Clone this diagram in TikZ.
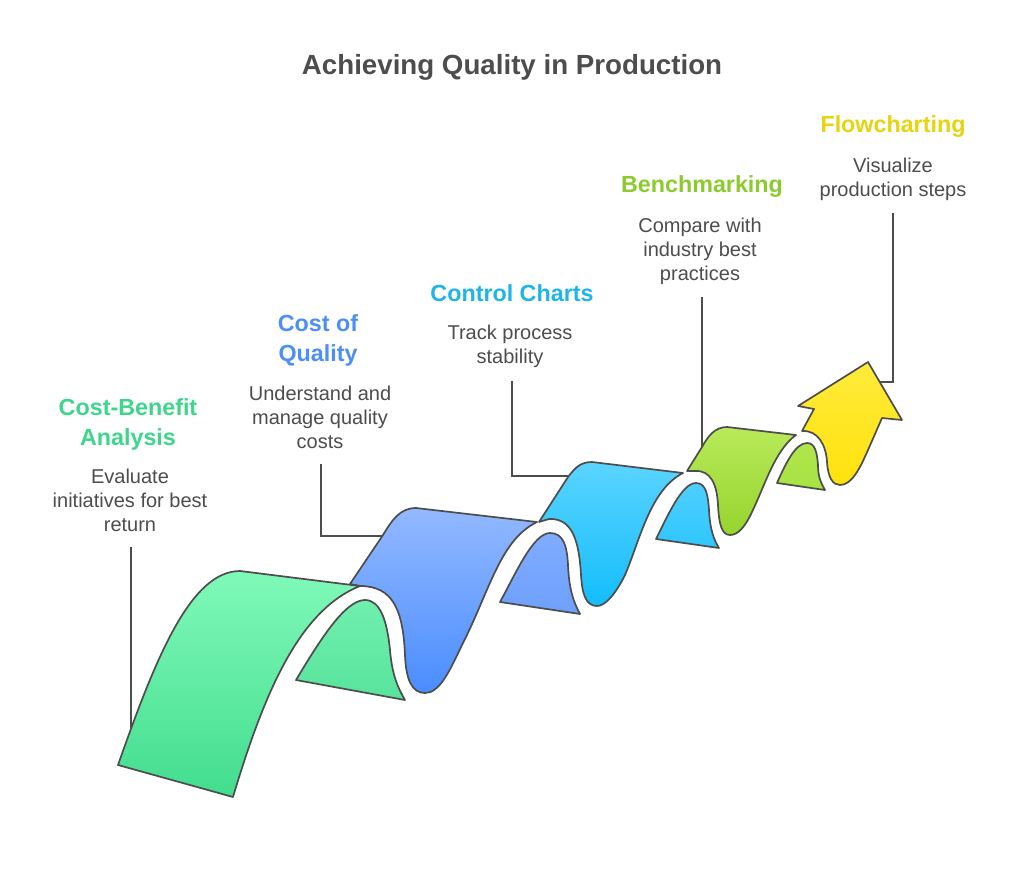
\documentclass[tikz,border=0pt]{standalone}
\usepackage{fontspec}
\setmainfont{Liberation Sans}
\definecolor{ink}{HTML}{4D4D4D}
\definecolor{lgreen}{HTML}{3DD68C}
\definecolor{lblue}{HTML}{4D8FF5}
\definecolor{lcyan}{HTML}{1FB4EA}
\definecolor{llime}{HTML}{8CCB2E}
\definecolor{lyellow}{HTML}{E8D30F}
\definecolor{gt}{HTML}{80F9B9}\definecolor{gb}{HTML}{42DD8E}
\definecolor{gst}{HTML}{70F0AE}\definecolor{gsb}{HTML}{58E39C}
\definecolor{bt}{HTML}{93B9FF}\definecolor{bb}{HTML}{4A8DFF}
\definecolor{bst}{HTML}{80ACFF}\definecolor{bsb}{HTML}{6EA0FC}
\definecolor{ct}{HTML}{5AD4FF}\definecolor{cb}{HTML}{14BDFB}
\definecolor{cst}{HTML}{4FCFFF}\definecolor{csb}{HTML}{2EC6FD}
\definecolor{lt}{HTML}{B9EA5A}\definecolor{lb}{HTML}{96D42D}
\definecolor{lst}{HTML}{B0E64C}\definecolor{lsb}{HTML}{A8E243}
\definecolor{yt}{HTML}{FFEB3B}\definecolor{yb}{HTML}{FFE20D}
\tikzset{
  ribbon/.style={draw=ink,line width=1.7pt,line join=round},
  link/.style={draw=ink,line width=1.7pt,line join=miter},
  titletext/.style={text=ink,inner sep=0pt,font=\fontsize{27.7}{34}\selectfont\bfseries},
  headtext/.style={inner sep=0pt,align=center,font=\fontsize{23.3}{30}\selectfont\bfseries},
  desctext/.style={text=ink,inner sep=0pt,align=center,font=\fontsize{20}{24}\selectfont},
}
\begin{document}
\begin{tikzpicture}[x=1pt,y=-1pt]
\fill[white] (0,0) rectangle (1024,870);
\useasboundingbox (0,0) rectangle (1024,870);

\node[titletext] (title) at (512,67) {Achieving Quality in Production};

\node[headtext,text=lgreen] (h1) at (128,424.5) {Cost-Benefit\\Analysis};
\node[desctext] (d1) at (130,500) {Evaluate\\initiatives for best\\return};
\node[headtext,text=lblue] (h2) at (318,340.5) {Cost of\\Quality};
\node[desctext] (d2) at (320,417) {Understand and\\manage quality\\costs};
\node[headtext,text=lcyan] (h3) at (512,293.5) {Control Charts};
\node[desctext] (d3) at (510,346.5) {Track process\\stability};
\node[headtext,text=llime] (h4) at (702,186.5) {Benchmarking};
\node[desctext] (d4) at (700,251.5) {Compare with\\industry best\\practices};
\node[headtext,text=lyellow] (h5) at (893,126.5) {Flowcharting};
\node[desctext] (d5) at (893,179.5) {Visualize\\production steps};

% connector ends
\coordinate (c1a) at (131,547);  \coordinate (c1b) at (131,728);
\coordinate (c2a) at (321,464);  \coordinate (c2b) at (383,536);
\coordinate (c3a) at (512,381);  \coordinate (c3b) at (568,476);
\coordinate (c4a) at (702,297);  \coordinate (c4b) at (702,447);
\coordinate (c5a) at (893,213);  \coordinate (c5b) at (878,382);
\draw[link] (c1a) -- (c1b);
\draw[link] (c2a) |- (c2b);
\draw[link] (c3a) |- (c3b);
\draw[link] (c4a) -- (c4b);
\draw[link] (c5a) |- (c5b);

% arrow head
\draw[ribbon,top color=yt,bottom color=yb] (802,431) .. controls (818,430) and (826,445) .. (827,462) .. controls (828,478) and (833,485) .. (840,485) .. controls (852,485) and (860,468) .. (868,450) -- (882,418) -- (902,420) -- (868,362) -- (798,406) -- (814,409) -- cycle;
% step 4
\draw[ribbon,top color=lt,bottom color=lb] (687,471) -- (702,447) .. controls (708,436) and (715,427) .. (727,427) -- (796,435) .. controls (775,450) and (765,485) .. (752,512) .. controls (745,527) and (738,535) .. (730,535) .. controls (722,535) and (719,525) .. (718,505) .. controls (717,485) and (711,470) .. (695,471) -- cycle;
\draw[ribbon,top color=lst,bottom color=lsb] (777,483) .. controls (785,465) and (795,443) .. (807,443) .. controls (815,443) and (817,452) .. (818,465) .. controls (818,477) and (821,483) .. (825,490) -- cycle;
% step 3
\draw[ribbon,top color=ct,bottom color=cb] (539,522) -- (568,477) .. controls (575,468) and (580,462) .. (592,462) -- (683,473) .. controls (650,490) and (640,540) .. (625,575) .. controls (615,595) and (605,606) .. (597,606) .. controls (585,606) and (582,592) .. (581,575) .. controls (579,540) and (572,518) .. (549,519) -- cycle;
\draw[ribbon,top color=cst,bottom color=csb] (656,539) .. controls (668,515) and (682,483) .. (696,483) .. controls (706,483) and (708,495) .. (709,510) .. controls (710,530) and (714,540) .. (719,548) -- cycle;
% step 2
\draw[ribbon,top color=bt,bottom color=bb] (350,584) -- (383,535) .. controls (392,520) and (400,508) .. (416,508) -- (537,522) .. controls (500,540) and (490,590) .. (462,645) .. controls (450,670) and (440,693) .. (425,693) .. controls (412,693) and (406,680) .. (405,655) .. controls (403,610) and (393,586) .. (360,586) -- cycle;
\draw[ribbon,top color=bst,bottom color=bsb] (500,602) .. controls (515,575) and (533,533) .. (550,533) .. controls (563,533) and (567,545) .. (568,565) .. controls (569,590) and (574,603) .. (580,614) -- cycle;
% step 1
\draw[ribbon,top color=gt,bottom color=gb] (118,765) .. controls (155,660) and (190,571) .. (240,571) -- (360,586) .. controls (300,610) and (265,690) .. (233,797) -- cycle;
\draw[ribbon,top color=gst,bottom color=gsb] (296,680) .. controls (320,640) and (345,600) .. (365,600) .. controls (380,600) and (387,620) .. (390,650) .. controls (392,675) and (398,688) .. (405,700) -- cycle;
\end{tikzpicture}
\end{document}
